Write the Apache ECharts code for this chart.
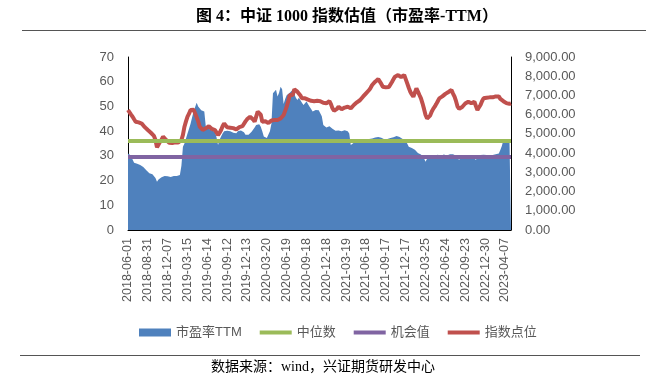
<!DOCTYPE html>
<html><head><meta charset="utf-8">
<script src="https://cdn.jsdelivr.net/npm/echarts@6/dist/echarts.min.js"></script>
<style>html,body{margin:0;padding:0;background:#fff}#c{width:646px;height:378px}</style>
</head><body><div id="c"></div>
<script>
const tickLabels = ['2018-06-01','2018-08-31','2018-12-07','2019-03-15','2019-06-14','2019-09-12','2019-12-13','2020-03-20','2020-06-19','2020-09-18','2020-12-18','2021-03-19','2021-06-18','2021-09-17','2021-12-17','2022-03-25','2022-06-24','2022-09-23','2022-12-30','2023-04-07'];

const peTTM = [
31.0,30.6,30.1,28.5,27.2,27.0,26.8,26.5,26.3,26.6,
25.5,25.0,24.2,23.5,23.0,22.9,22.6,22.3,21.0,19.5,
20.4,20.9,21.3,21.5,21.8,21.4,21.7,21.6,21.4,21.7,
21.8,22.0,21.9,22.1,22.3,26.0,33.7,35.0,37.0,39.0,
41.0,43.0,45.5,48.0,48.6,51.5,50.0,49.2,48.5,48.2,
47.9,41.8,41.5,41.0,40.8,40.3,40.0,39.8,37.5,34.4,
36.5,37.8,39.0,40.0,40.5,40.2,39.6,40.0,39.8,39.4,
39.0,39.1,40.0,40.8,40.3,40.5,39.6,38.5,37.8,38.5,
39.2,39.8,40.5,41.5,42.5,43.2,42.8,41.8,40.0,37.8,
37.5,37.2,37.1,40.0,43.0,55.3,54.5,56.7,54.0,55.5,
58.0,57.0,51.0,53.0,54.5,55.0,55.5,56.0,56.7,55.0,
53.5,52.6,53.5,53.8,51.5,50.6,51.0,52.0,51.2,49.9,
49.0,47.9,48.3,48.6,48.4,48.5,48.3,46.0,42.5,42.0,
41.5,41.8,42.0,41.5,41.0,40.6,40.2,40.0,40.3,40.5,
40.0,39.8,40.4,40.2,40.0,39.0,34.4,35.0,35.3,35.6,
35.5,35.8,35.9,36.0,36.3,36.2,36.0,36.5,36.8,36.6,
37.0,37.2,37.4,37.1,37.6,37.8,37.3,36.9,36.7,36.8,
36.8,37.0,37.2,37.4,37.5,37.8,38.0,38.1,37.6,37.0,
36.8,36.4,36.2,35.9,33.7,33.5,33.2,33.0,32.5,31.7,
31.2,30.8,30.5,30.3,29.0,27.6,28.8,29.7,30.0,30.3,
30.3,30.0,30.2,30.4,30.1,30.0,30.3,30.5,30.3,30.1,
30.4,30.6,30.8,30.6,30.4,30.0,29.5,28.3,29.5,30.2,
30.3,30.0,30.1,29.9,29.9,30.2,29.8,29.0,28.3,29.6,
30.0,30.3,30.1,30.4,30.2,30.3,30.6,30.2,30.4,30.3,
30.5,30.6,30.8,31.0,32.4,34.0,36.4,36.3,36.5,36.2,
36.4,36.4
];

const indexPoints = [
6242,6150,6000,5894,5760,5634,5610,5600,5582,5540,
5462,5350,5250,5202,5120,5060,5029,4900,4682,4300,
4450,4594,4700,4855,4760,4682,4600,4540,4474,4520,
4594,4560,4508,4550,4620,4682,4950,5374,5650,5894,
6050,6242,6200,6250,6242,5860,5650,5374,5300,5202,
5240,5288,5350,5400,5330,5260,5220,5200,5100,4942,
5050,5202,5400,5549,5450,5340,5360,5320,5340,5300,
5260,5230,5300,5350,5400,5400,5500,5650,5757,5820,
5894,5850,5750,5634,5900,6155,6242,6000,5634,5600,
5660,5634,5560,5650,5700,5757,5720,5680,5720,5700,
5800,5900,5980,6200,6414,6700,7023,6980,7023,7318,
7250,7196,7196,7000,6850,6763,6850,6900,6780,6676,
6720,6763,6700,6676,6720,6763,6700,6650,6620,6600,
6590,6650,6710,6550,6330,6200,6155,6300,6414,6350,
6280,6320,6370,6400,6414,6380,6330,6420,6502,6600,
6640,6676,6750,6850,6935,7000,7110,7200,7283,7400,
7543,7600,7716,7800,7850,7890,7600,7456,7430,7420,
7420,7440,7456,7700,7850,7976,8020,8063,8000,7950,
8000,8063,7850,7630,7400,7196,7050,6935,7150,7370,
7200,7023,6850,6590,6300,5980,5800,5757,5950,6155,
6300,6414,6550,6700,6850,6900,6950,7023,7080,7110,
7180,7250,7283,7100,6935,6700,6414,6300,6242,6400,
6502,6580,6640,6676,6620,6590,6640,6676,6450,6242,
6380,6502,6700,6850,6935,6880,6850,6900,6935,6900,
6850,6950,7023,6950,6820,6800,6700,6676,6600,6590,
6560,6590
];

const medianPE = 36.2;
const opportunityPE = 29.5;
const seriesNames = ['市盈率TTM','中位数','机会值','指数点位'];

const N = peTTM.length;
const categories = [];
for (let i = 0; i < N; i++) {
  categories.push(i % 13 === 0 && tickLabels[i / 13] ? tickLabels[i / 13] : 'w' + i);
}

const axisFont = "'Liberation Sans', Arial, sans-serif";
const gray = '#595959';
const lineIcon = 'path://M0,0L34,0L34,4L0,4Z';

function fmtThousands(v) {
  const s = v.toFixed(2);
  const parts = s.split('.');
  parts[0] = parts[0].replace(/\B(?=(\d{3})+(?!\d))/g, ',');
  return parts.join('.');
}

const chart = echarts.init(document.getElementById('c'), null, {renderer: 'canvas'});
chart.setOption({
  animation: false,
  backgroundColor: '#fff',
  title: {
    text: '图 4：中证 1000 指数估值（市盈率-TTM）',
    left: 342, top: 4, textAlign: 'center',
    textStyle: {fontSize: 16, fontWeight: 'bold', color: '#000', fontFamily: "'Liberation Serif', 'Noto Sans CJK SC', serif"}
  },
  graphic: [
    {type: 'line', shape: {x1: 22, y1: 30.5, x2: 646, y2: 30.5}, style: {stroke: '#555', lineWidth: 1.2}},
    {type: 'line', shape: {x1: 20, y1: 355.5, x2: 640, y2: 355.5}, style: {stroke: '#555', lineWidth: 1.2}},
    {type: 'text', left: 'center', top: 360,
      style: {text: '数据来源：wind，兴证期货研发中心', fontSize: 14, fill: '#000', fontFamily: "'Liberation Serif', 'Noto Sans CJK SC', serif"}}
  ],
  legend: {
    left: 134, top: 321,
    itemWidth: 32, itemHeight: 8, itemGap: 18,
    textStyle: {fontSize: 13, color: gray, fontFamily: "'Liberation Sans', 'Noto Sans CJK SC', sans-serif"},
    data: [
      {name: seriesNames[0], icon: 'rect'},
      {name: seriesNames[1], icon: lineIcon},
      {name: seriesNames[2], icon: lineIcon},
      {name: seriesNames[3], icon: lineIcon}
    ]
  },
  grid: {left: 128, right: 135, top: 57, bottom: 148, containLabel: false},
  xAxis: {
    type: 'category', data: categories, boundaryGap: false,
    axisLine: {show: true, lineStyle: {color: '#000', width: 1}},
    axisTick: {show: false},
    axisLabel: {
      rotate: 90, interval: function (i) { return i % 13 === 0; },
      fontSize: 12.5, color: gray, margin: 8, fontFamily: axisFont
    },
    splitLine: {show: false}
  },
  yAxis: [
    {type: 'value', min: 0, max: 70, interval: 10, position: 'left',
      axisLine: {show: true, lineStyle: {color: '#000', width: 1}},
      axisTick: {show: false}, splitLine: {show: false},
      axisLabel: {fontSize: 13, color: gray, margin: 14, fontFamily: axisFont}},
    {type: 'value', min: 0, max: 9000, interval: 1000, position: 'right',
      axisLine: {show: true, lineStyle: {color: '#000', width: 1}},
      axisTick: {show: false}, splitLine: {show: false},
      axisLabel: {fontSize: 13, color: gray, margin: 14, fontFamily: axisFont, formatter: fmtThousands}}
  ],
  series: [
    {name: seriesNames[0], type: 'line', yAxisIndex: 0, data: peTTM, symbol: 'none',
      color: '#4F81BD', lineStyle: {width: 0}, areaStyle: {color: '#4F81BD', opacity: 1}},
    {name: seriesNames[1], type: 'line', yAxisIndex: 0, data: [], symbol: 'none',
      color: '#9BBB59', lineStyle: {width: 4, color: '#9BBB59'},
      markLine: {silent: true, symbol: 'none', label: {show: false},
        lineStyle: {color: '#9BBB59', width: 4, type: 'solid'}, data: [{yAxis: medianPE}]}},
    {name: seriesNames[2], type: 'line', yAxisIndex: 0, data: [], symbol: 'none',
      color: '#8064A2', lineStyle: {width: 4, color: '#8064A2'},
      markLine: {silent: true, symbol: 'none', label: {show: false},
        lineStyle: {color: '#8064A2', width: 4, type: 'solid'}, data: [{yAxis: opportunityPE}]}},
    {name: seriesNames[3], type: 'line', yAxisIndex: 1, data: indexPoints, symbol: 'none',
      color: '#C0504D', lineStyle: {width: 4, color: '#C0504D'}}
  ]
});
</script>
</body></html>
